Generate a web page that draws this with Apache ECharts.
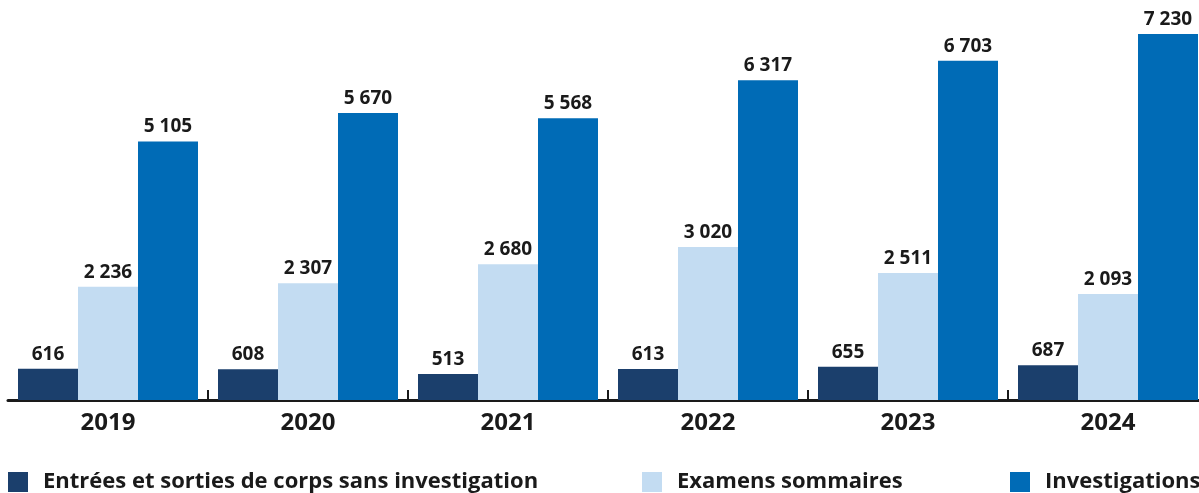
<!DOCTYPE html>
<html>
<head>
<meta charset="utf-8">
<script src="https://cdn.jsdelivr.net/npm/echarts@6/dist/echarts.min.js"></script>
<style>
  html, body { margin: 0; padding: 0; background: #fff; }
  #chart { width: 1199px; height: 493px; }
</style>
</head>
<body>
<div id="chart"></div>
<script>
const years = ['2019', '2020', '2021', '2022', '2023', '2024']
const entrees = [616, 608, 513, 613, 655, 687]
const examens = [2236, 2307, 2680, 3020, 2511, 2093]
const investigations = [5105, 5670, 5568, 6317, 6703, 7230]

const seriesNames = [
  'Entrées et sorties de corps sans investigation',
  'Examens sommaires',
  'Investigations'
]
const colors = ['#1b3f6c', '#c3dcf2', '#006bb6']
const font = '"Open Sans", sans-serif'

// 7230 -> "7 230"
function fmt(v) {
  return String(v).replace(/\B(?=(\d{3})+(?!\d))/g, ' ')
}

const chart = echarts.init(document.getElementById('chart'))

function legendAt(left, name) {
  return {
    left: left,
    top: 471,
    data: [name],
    itemWidth: 20,
    itemHeight: 20,
    itemGap: 0,
    icon: 'rect',
    selectedMode: false,
    padding: 0,
    textStyle: {
      fontFamily: font,
      fontWeight: 'bold',
      fontSize: 22,
      color: '#1a1a1a',
      padding: [0, 0, 0, 10]
    }
  }
}

function makeSeries(i, data) {
  return {
    name: seriesNames[i],
    type: 'bar',
    data: data,
    barGap: 0,
    barCategoryGap: '10%',
    itemStyle: { color: colors[i] },
    label: {
      show: true,
      position: 'top',
      distance: 5,
      formatter: p => fmt(p.value),
      fontFamily: font,
      fontWeight: 'bold',
      fontSize: 19,
      color: '#1a1a1a'
    }
  }
}

chart.setOption({
  animation: false,
  legend: [
    legendAt(8, seriesNames[0]),
    legendAt(642, seriesNames[1]),
    legendAt(1010, seriesNames[2])
  ],
  grid: {
    left: 8,
    width: 1200,
    top: 34,
    bottom: 93,
    containLabel: false,
    outerBoundsMode: 'none'
  },
  xAxis: {
    type: 'category',
    data: years,
    axisLine: { lineStyle: { color: '#1a1a1a', width: 3 } },
    axisTick: {
      show: true,
      inside: true,
      length: 10,
      interval: i => i > 0, // no tick on the left edge
      lineStyle: { color: '#1a1a1a', width: 2 }
    },
    axisLabel: {
      fontFamily: font,
      fontWeight: 'bold',
      fontSize: 24,
      color: '#1a1a1a',
      margin: 11
    }
  },
  yAxis: {
    type: 'value',
    min: 0,
    max: 7230,
    show: false,
    splitLine: { show: false }
  },
  series: [
    makeSeries(0, entrees),
    makeSeries(1, examens),
    makeSeries(2, investigations)
  ]
})
</script>
</body>
</html>
